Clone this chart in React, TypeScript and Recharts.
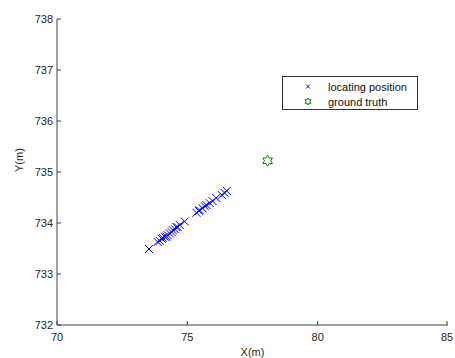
import React from "react";
import { ScatterChart, Scatter, XAxis, YAxis } from "recharts";

const locX = [73.53, 73.86, 73.94, 74.02, 74.05, 74.13, 74.2, 74.25, 74.32, 74.4, 74.44, 74.52, 74.58, 74.63, 74.71, 74.9, 75.35, 75.44, 75.47, 75.58, 75.67, 75.74, 75.86, 75.97, 76.11, 76.32, 76.43, 76.51];
const locY = [733.49, 733.63, 733.65, 733.69, 733.71, 733.73, 733.73, 733.76, 733.8, 733.82, 733.86, 733.88, 733.92, 733.92, 733.96, 734.03, 734.2, 734.24, 734.25, 734.29, 734.33, 734.35, 734.39, 734.43, 734.49, 734.55, 734.59, 734.63];
const truthX = [78.08];
const truthY = [735.22];
const xTicks = [70, 75, 80, 85];
const yTicks = [732, 733, 734, 735, 736, 737, 738];
const seriesNames = ["locating position", "ground truth"];

const locData = locX.map((x, i) => ({ x, y: locY[i] }));
const truthData = truthX.map((x, i) => ({ x, y: truthY[i] }));

const FONT = "'Liberation Sans', Arial, sans-serif";
const AXIS = "#404040";
const TXT = "#262626";

function starPoints(cx: number, cy: number, ro: number, ri: number) {
  const pts: string[] = [];
  for (let i = 0; i < 12; i++) {
    const r = i % 2 === 0 ? ro : ri;
    const a = (Math.PI / 6) * i - Math.PI / 2;
    pts.push(`${cx + r * Math.cos(a)},${cy + r * Math.sin(a)}`);
  }
  return pts.join(" ");
}

const Cross = (props: any) => {
  const { cx, cy } = props;
  const s = 4;
  return (
    <g>
      <line x1={cx - s} y1={cy - s} x2={cx + s} y2={cy + s} stroke="#0000ff" strokeWidth={1} />
      <line x1={cx - s} y1={cy + s} x2={cx + s} y2={cy - s} stroke="#0000ff" strokeWidth={1} />
    </g>
  );
};

const Star = (props: any) => {
  const { cx, cy } = props;
  return <polygon points={starPoints(cx, cy, 5.5, 3.2)} fill="none" stroke="#008000" strokeWidth={1} />;
};

const XTick = (props: any) => {
  const { x, y, payload } = props;
  return (
    <g>
      <line x1={x} y1={y} x2={x} y2={y - 4} stroke={AXIS} />
      <text x={x} y={y + 16} textAnchor="middle" fontSize={11} fontFamily={FONT} fill={TXT}>
        {payload.value}
      </text>
    </g>
  );
};

const YTick = (props: any) => {
  const { x, y, payload } = props;
  return (
    <g>
      <line x1={x} y1={y} x2={x + 4} y2={y} stroke={AXIS} />
      <text x={x - 4} y={y + 4} textAnchor="end" fontSize={11} fontFamily={FONT} fill={TXT}>
        {payload.value}
      </text>
    </g>
  );
};

const LegendBox = () => (
  <svg width={136} height={34} style={{ position: "absolute", left: 282, top: 76 }}>
    <rect x={0.5} y={0.5} width={135} height={33} fill="#fff" stroke="#333" />
    <g>
      <line x1={24} y1={8.5} x2={28} y2={12.5} stroke="#0000ff" />
      <line x1={24} y1={12.5} x2={28} y2={8.5} stroke="#0000ff" />
    </g>
    <polygon points={starPoints(26, 25.5, 3.5, 2)} fill="none" stroke="#008000" />
    <text x={46} y={14.5} fontSize={11} fontFamily={FONT} fill="#111">{seriesNames[0]}</text>
    <text x={46} y={29.5} fontSize={11} fontFamily={FONT} fill="#111">{seriesNames[1]}</text>
  </svg>
);

export default function App() {
  return (
    <div style={{ position: "absolute", left: 0, top: 0, width: 455, height: 358, background: "#fff" }}>
      <ScatterChart width={455} height={358} margin={{ top: 19, right: 7, left: 0, bottom: 0 }}>
        <XAxis
          type="number"
          dataKey="x"
          domain={[70, 85]}
          ticks={xTicks}
          tickSize={0}
          tickMargin={0}
          tickLine={false}
          tick={<XTick />}
          height={33}
          stroke={AXIS}
          allowDataOverflow
          label={{ value: "X(m)", position: "insideBottom", offset: 0, dy: -2, fontSize: 11, fontFamily: FONT, fill: TXT }}
        />
        <YAxis
          type="number"
          dataKey="y"
          domain={[732, 738]}
          ticks={yTicks}
          tickSize={0}
          tickMargin={0}
          tickLine={false}
          tick={<YTick />}
          width={57}
          stroke={AXIS}
          allowDataOverflow
          label={{ value: "Y(m)", angle: -90, position: "insideLeft", offset: 0, dx: 19, fontSize: 11, fontFamily: FONT, fill: TXT }}
        />
        <Scatter name={seriesNames[0]} data={locData} shape={<Cross />} isAnimationActive={false} />
        <Scatter name={seriesNames[1]} data={truthData} shape={<Star />} isAnimationActive={false} />
      </ScatterChart>
      <LegendBox />
    </div>
  );
}
